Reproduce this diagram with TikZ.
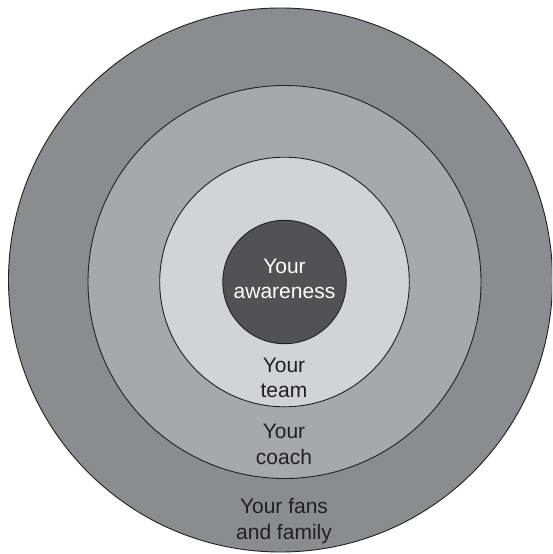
\documentclass[tikz,border=0pt]{standalone}
\usepackage{fontspec}
\setmainfont{Liberation Sans}
\definecolor{ringA}{HTML}{8B8C90}
\definecolor{ringB}{HTML}{A7A8AB}
\definecolor{ringC}{HTML}{D2D3D5}
\definecolor{ringD}{HTML}{525255}
\definecolor{ink}{HTML}{231F20}
\tikzset{
  ring/.style={draw=ink, line width=0.9pt},
  lbl/.style={align=center, anchor=base, inner sep=0pt, text=ink,
    font=\fontsize{21}{25.3}\selectfont},
  lblw/.style={lbl, text=white}
}
\begin{document}
\begin{tikzpicture}[x=1pt,y=-1pt]
\useasboundingbox (0,0) rectangle (552,554);
\begin{scope}
\clip (0,0) rectangle (552,554);
\path[ring, fill=ringA] (280.5,280) circle (272);
\end{scope}
\path[ring, fill=ringB] (284.5,282) circle (196.5);
\path[ring, fill=ringC] (284.5,282) circle (124.8);
\path[ring, fill=ringD] (284.5,282) circle (61.7);
\node[lblw] (aware) at (284.5,298.3) {Your\\awareness};
\node[lbl] (team) at (284,397.3) {Your\\team};
\node[lbl] (coach) at (284,464) {Your\\coach};
\node[lbl] (fans) at (284,539) {Your fans\\and family};
\end{tikzpicture}
\end{document}
